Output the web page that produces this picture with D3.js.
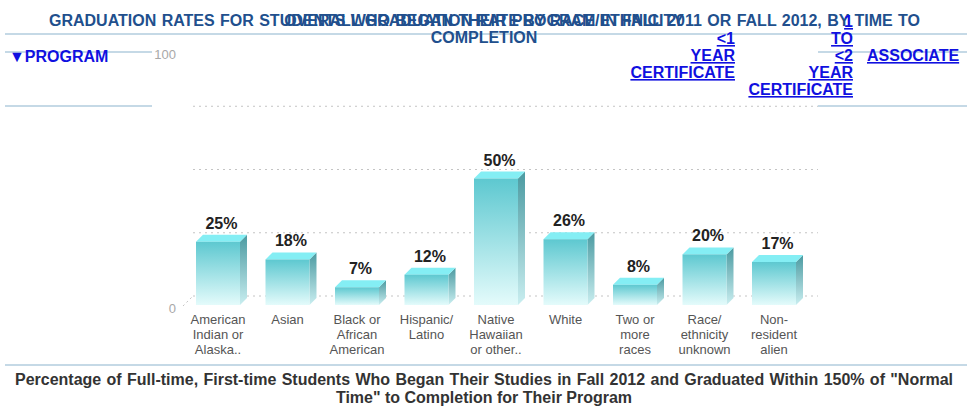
<!DOCTYPE html>
<html>
<head>
<meta charset="utf-8">
<script src="https://cdn.jsdelivr.net/npm/d3@7"></script>
<style>
  body { margin: 0; background: #fff; }
  svg { display: block; font-family: "Liberation Sans", Arial, sans-serif; }
</style>
</head>
<body>
<div id="chart-area"></div>
<script>
// chart data
const categories = ["American Indian or Alaska..", "Asian", "Black or African American",
  "Hispanic/ Latino", "Native Hawaiian or other..", "White", "Two or more races",
  "Race/ ethnicity unknown", "Non- resident alien"]
const categoryLines = [["American", "Indian or", "Alaska.."], ["Asian"], ["Black or", "African", "American"],
  ["Hispanic/", "Latino"], ["Native", "Hawaiian", "or other.."], ["White"], ["Two or", "more", "races"],
  ["Race/", "ethnicity", "unknown"], ["Non-", "resident", "alien"]]
const rates = [25, 18, 7, 12, 50, 26, 8, 20, 17]
const yTicks = [0, 100]
const gridValues = [0, 25, 50, 75]

const titleText = "GRADUATION RATES FOR STUDENTS WHO BEGAN THEIR PROGRAM IN FALL 2011 OR FALL 2012, BY TIME TO"
const titleText2 = "COMPLETION"
const overlayTitle = "OVERALL GRADUATION RATE BY RACE/ETHNICITY"
const colHeader1 = ["<1", "YEAR", "CERTIFICATE"]
const colHeader2 = ["1", "TO", "<2", "YEAR", "CERTIFICATE"]
const colHeader3 = ["ASSOCIATE"]
const captionLines = ["Percentage of Full-time, First-time Students Who Began Their Studies in Fall 2012 and Graduated Within 150% of \"Normal",
  "Time\" to Completion for Their Program"]

const W = 967, H = 408
const DEPTH = 7
const GRID_SHIFT = 9

const svg = d3.select("#chart-area").append("svg")
  .attr("width", W).attr("height", H)

// stretch a line of text to a width by widening the spaces a little
function justify(sel, width) {
  const w = sel.node().getComputedTextLength()
  const spaces = (sel.text().match(/ /g) || []).length
  if (spaces > 0 && w < width) sel.attr("word-spacing", (width - w) / spaces)
}

// gradients
const defs = svg.append("defs")
const front = defs.append("linearGradient").attr("id", "gFront").attr("x1", 0).attr("y1", 0).attr("x2", 0).attr("y2", 1)
front.append("stop").attr("offset", "0%").attr("stop-color", "#5dc8d0")
front.append("stop").attr("offset", "100%").attr("stop-color", "#e4fbfb")
const side = defs.append("linearGradient").attr("id", "gSide").attr("x1", 0).attr("y1", 0).attr("x2", 0).attr("y2", 1)
side.append("stop").attr("offset", "0%").attr("stop-color", "#4b9aa1")
side.append("stop").attr("offset", "100%").attr("stop-color", "#c9eef0")

// header lines
const lineColor = "#c5d9e6"
svg.append("line").attr("x1", 5).attr("x2", W).attr("y1", 34).attr("y2", 34).attr("stroke", lineColor).attr("stroke-width", 2)
svg.append("line").attr("x1", 5).attr("x2", 152).attr("y1", 52).attr("y2", 52).attr("stroke", lineColor).attr("stroke-width", 2)
svg.append("line").attr("x1", 818).attr("x2", W).attr("y1", 52).attr("y2", 52).attr("stroke", lineColor).attr("stroke-width", 2)
svg.append("line").attr("x1", 5).attr("x2", 152).attr("y1", 106).attr("y2", 106).attr("stroke", lineColor).attr("stroke-width", 2)
svg.append("line").attr("x1", 818).attr("x2", W).attr("y1", 106).attr("y2", 106).attr("stroke", lineColor).attr("stroke-width", 2)
svg.append("line").attr("x1", 5).attr("x2", W).attr("y1", 365).attr("y2", 365).attr("stroke", lineColor).attr("stroke-width", 2)

// scales
const x = d3.scaleBand()
  .domain(categories)
  .range([196, 796])
  .paddingInner(0.367)
  .paddingOuter(0)

const y = d3.scaleLinear()
  .domain([0, 100])
  .range([305, 52])

// grid (back plane)
svg.append("g").selectAll("line").data(gridValues).enter().append("line")
  .attr("x1", 193).attr("x2", 818)
  .attr("y1", d => y(d) - GRID_SHIFT).attr("y2", d => y(d) - GRID_SHIFT)
  .attr("stroke", "#c4c4c4").attr("stroke-width", 1).attr("stroke-dasharray", "2,4")
svg.append("line")
  .attr("x1", 183).attr("y1", y(0) + 1).attr("x2", 193).attr("y2", y(0) - GRID_SHIFT)
  .attr("stroke", "#c4c4c4").attr("stroke-dasharray", "2,3")

// y tick labels
svg.append("g").selectAll("text").data(yTicks).enter().append("text")
  .attr("x", 176).attr("y", d => y(d) + (d === 0 ? 8 : 7))
  .attr("text-anchor", "end")
  .attr("font-size", 13).attr("fill", "#a8a8a8")
  .text(d => d)

// bars
const bars = svg.append("g").selectAll("g").data(rates).enter().append("g")
const bw = x.bandwidth()
bars.append("path")
  .attr("d", (d, i) => {
    const x0 = x(categories[i]) + bw, yt = y(d), yb = y(0)
    return `M${x0},${yt}L${x0 + DEPTH},${yt - DEPTH}L${x0 + DEPTH},${yb - DEPTH}L${x0},${yb}Z`
  })
  .attr("fill", "url(#gSide)")
bars.append("path")
  .attr("d", (d, i) => {
    const x0 = x(categories[i]), yt = y(d)
    return `M${x0},${yt}L${x0 + DEPTH},${yt - DEPTH}L${x0 + bw + DEPTH},${yt - DEPTH}L${x0 + bw},${yt}Z`
  })
  .attr("fill", "#84eef4")
bars.append("rect")
  .attr("x", (d, i) => x(categories[i]))
  .attr("y", d => y(d))
  .attr("width", bw)
  .attr("height", d => y(0) - y(d))
  .attr("fill", "url(#gFront)")

bars.append("text")
  .attr("x", (d, i) => x(categories[i]) + bw / 2 + DEPTH / 2)
  .attr("y", d => y(d) - DEPTH - 6)
  .attr("text-anchor", "middle")
  .attr("font-size", 16).attr("font-weight", "bold").attr("fill", "#222")
  .text(d => d + "%")

// category labels
const cats = svg.append("g").selectAll("text").data(categoryLines).enter().append("text")
  .attr("x", (d, i) => x(categories[i]) + bw / 2)
  .attr("y", 324)
  .attr("text-anchor", "middle")
  .attr("font-size", 13).attr("fill", "#555")
cats.selectAll("tspan").data(d => d).enter().append("tspan")
  .attr("x", function () { return d3.select(this.parentNode).attr("x") })
  .attr("dy", (d, i) => i === 0 ? 0 : 15)
  .text(d => d)

// titles
const titleColor = "#214f8d"
const t1 = svg.append("text").attr("x", 49).attr("y", 26)
  .attr("font-size", 16).attr("font-weight", "bold").attr("fill", titleColor).text(titleText)
justify(t1, 871)
svg.append("text").attr("x", 484).attr("y", 26).attr("text-anchor", "middle")
  .attr("font-size", 16).attr("font-weight", "bold").attr("fill", titleColor).text(overlayTitle)
svg.append("text").attr("x", 484).attr("y", 43).attr("text-anchor", "middle")
  .attr("font-size", 16).attr("font-weight", "bold").attr("fill", titleColor).text(titleText2)

// program header
const linkColor = "#1010e0"
svg.append("text").attr("x", 9).attr("y", 62)
  .attr("font-size", 16).attr("font-weight", "bold").attr("fill", linkColor)
  .text("▼PROGRAM")

function colHeader(lines, xPos, anchor, yStart) {
  svg.append("g").selectAll("text").data(lines).enter().append("text")
    .attr("x", xPos).attr("y", (d, i) => yStart + i * 17)
    .attr("text-anchor", anchor)
    .attr("font-size", 16).attr("font-weight", "bold").attr("fill", linkColor)
    .attr("text-decoration", "underline")
    .text(d => d)
}
colHeader(colHeader1, 735, "end", 44)
colHeader(colHeader2, 853, "end", 27)
colHeader(colHeader3, 867, "start", 61)

// caption
const cap1 = svg.append("text").attr("x", 15).attr("y", 385)
  .attr("font-size", 16).attr("font-weight", "bold").attr("fill", "#333")
  .text(captionLines[0])
justify(cap1, 938)
svg.append("text").attr("x", 484).attr("y", 403)
  .attr("text-anchor", "middle")
  .attr("font-size", 16).attr("font-weight", "bold").attr("fill", "#333")
  .text(captionLines[1])
</script>
</body>
</html>
